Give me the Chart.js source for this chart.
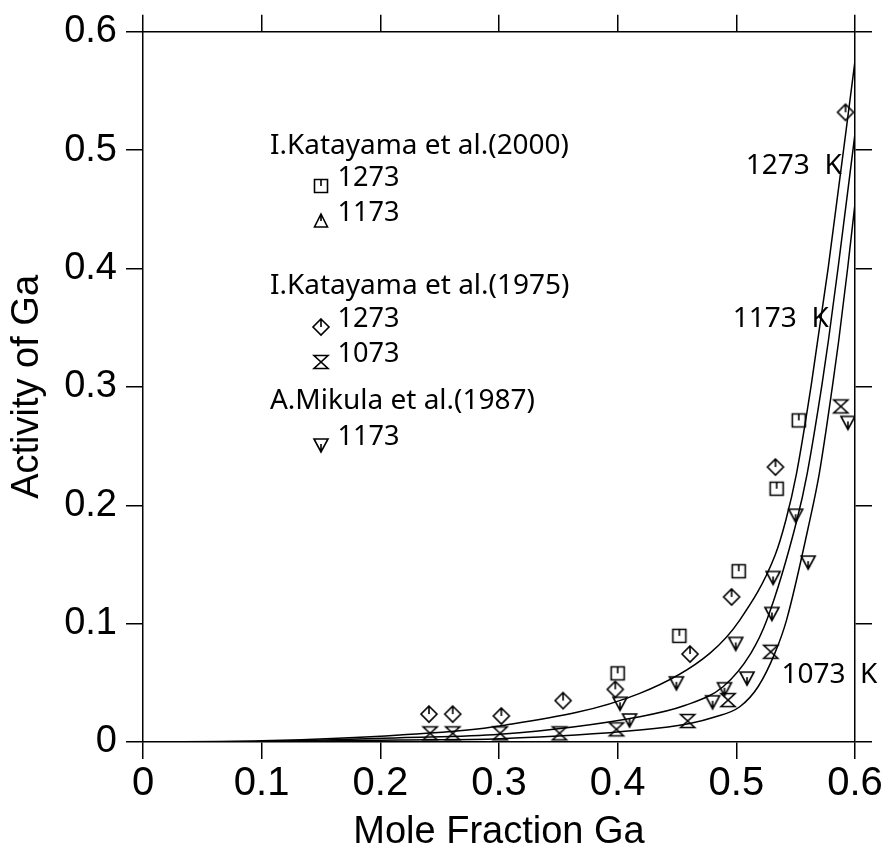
<!DOCTYPE html>
<html>
<head>
<meta charset="utf-8">
<script src="https://cdn.jsdelivr.net/npm/chart.js@4.4.1/dist/chart.umd.min.js"></script>
<style>
    html, body { margin: 0; padding: 0; background: #fff; }
    #wrap { width: 885px; height: 858px; }
</style>
</head>
<body>
<div id="wrap"><canvas id="chart" width="885" height="858"></canvas></div>
<script>
// 目盛り
const tickValues = [0, 0.1, 0.2, 0.3, 0.4, 0.5, 0.6];
const xTickLabels = ['0', '0.1', '0.2', '0.3', '0.4', '0.5', '0.6'];
const yTickLabels = ['0', '0.1', '0.2', '0.3', '0.4', '0.5', '0.6'];

// 計算曲線 (1273 K / 1173 K / 1073 K)
const curve1273X = [0, 0.1, 0.2164, 0.3006, 0.4186, 0.4776, 0.5029, 0.5324, 0.5417, 0.5507, 0.5633, 0.5775, 0.6];
const curve1273Y = [0, 0.001, 0.0059, 0.0135, 0.0411, 0.0749, 0.103, 0.1571, 0.1873, 0.2268, 0.3027, 0.4011, 0.5755];
const curve1173X = [0, 0.1, 0.2164, 0.3006, 0.4186, 0.4565, 0.4888, 0.5122, 0.5257, 0.551, 0.5597, 0.5723, 0.5776, 0.5858, 0.6];
const curve1173Y = [0, 0.0005, 0.0036, 0.0065, 0.0214, 0.0308, 0.0467, 0.0749, 0.103, 0.1873, 0.2268, 0.3027, 0.3392, 0.4011, 0.5139];
const curve1073X = [0, 0.1, 0.2164, 0.3006, 0.4186, 0.4607, 0.4818, 0.5029, 0.5183, 0.5324, 0.5423, 0.5619, 0.5699, 0.5813, 0.5863, 0.5939, 0.6];
const curve1073Y = [0, 0.0003, 0.0017, 0.0028, 0.0101, 0.0157, 0.0211, 0.0298, 0.0467, 0.0749, 0.103, 0.1873, 0.2268, 0.3027, 0.3392, 0.4011, 0.4549];

// 実測値
const kat2000T1273X = [0.400, 0.452, 0.502, 0.534, 0.5526];
const kat2000T1273Y = [0.058, 0.0897, 0.1443, 0.214, 0.2717];
const kat1975T1273X = [0.241, 0.261, 0.302, 0.354, 0.398, 0.461, 0.496, 0.533, 0.592];
const kat1975T1273Y = [0.0236, 0.0236, 0.022, 0.035, 0.0445, 0.0743, 0.1226, 0.2323, 0.532];
const kat1975T1073X = [0.242, 0.261, 0.301, 0.351, 0.399, 0.459, 0.493, 0.529, 0.588];
const kat1975T1073Y = [0.0073, 0.0073, 0.0073, 0.0073, 0.0107, 0.0177, 0.0354, 0.0762, 0.2835];
const mik1987T1173X = [0.402, 0.41, 0.4495, 0.480, 0.490, 0.4995, 0.509, 0.530, 0.531, 0.550, 0.5605, 0.594];
const mik1987T1173Y = [0.0327, 0.0186, 0.05, 0.034, 0.045, 0.0833, 0.054, 0.1086, 0.139, 0.1916, 0.152, 0.270];

const toPoints = (xs, ys) => xs.map((x, i) => ({ x: x, y: ys[i] }));

// マーカー画像を作る
function makeMarker(kind) {
    const s = 20;
    const c = document.createElement('canvas');
    c.width = s;
    c.height = s;
    const g = c.getContext('2d');
    const m = s / 2;
    g.strokeStyle = '#000';
    g.lineWidth = 1.6;
    g.beginPath();
    if (kind === 'square') {
        g.rect(m - 6.5, m - 6.5, 13, 13);
        g.moveTo(m, m - 6.5);
        g.lineTo(m, m);
    } else if (kind === 'diamond') {
        g.moveTo(m, m - 8);
        g.lineTo(m + 8, m);
        g.lineTo(m, m + 8);
        g.lineTo(m - 8, m);
        g.closePath();
        g.moveTo(m, m - 8);
        g.lineTo(m, m);
    } else if (kind === 'triUp') {
        g.moveTo(m, m - 7);
        g.lineTo(m + 6.5, m + 6);
        g.lineTo(m - 6.5, m + 6);
        g.closePath();
        g.moveTo(m, m - 7);
        g.lineTo(m, m);
    } else if (kind === 'triDown') {
        g.moveTo(m - 7, m - 6);
        g.lineTo(m + 7, m - 6);
        g.lineTo(m, m + 7);
        g.closePath();
        g.moveTo(m, m - 1);
        g.lineTo(m, m + 7);
    } else if (kind === 'hourglass') {
        g.moveTo(m - 7, m - 6.5);
        g.lineTo(m + 7, m - 6.5);
        g.lineTo(m - 7, m + 6.5);
        g.lineTo(m + 7, m + 6.5);
        g.closePath();
    }
    g.stroke();
    return c;
}

const marks = {
    square: makeMarker('square'),
    diamond: makeMarker('diamond'),
    triUp: makeMarker('triUp'),
    triDown: makeMarker('triDown'),
    hourglass: makeMarker('hourglass'),
};

// 凡例・曲線ラベル (データ座標で配置)
const legendHeads = [
    { text: 'I.Katayama et al.(2000)', x: 0.107, y: 0.4968, w: 299 },
    { text: 'I.Katayama et al.(1975)', x: 0.107, y: 0.3786, w: 300 },
    { text: 'A.Mikula et al.(1987)', x: 0.107, y: 0.2816, w: 268 },
];
const legendRows = [
    { mark: 'square', text: '1273', y: 0.47 },
    { mark: 'triUp', text: '1173', y: 0.4405 },
    { mark: 'diamond', text: '1273', y: 0.3505 },
    { mark: 'hourglass', text: '1073', y: 0.321 },
    { mark: 'triDown', text: '1173', y: 0.2506 },
];
const curveLabels = [
    { text: '1273  K', x: 0.508, y: 0.4799 },
    { text: '1173  K', x: 0.497, y: 0.3505 },
    { text: '1073  K', x: 0.538, y: 0.05 },
];

const annotFont = "28px 'Noto Sans'";

const annotations = {
    id: 'annotations',
    afterDraw: (chart) => {
        const ctx = chart.ctx;
        const xs = chart.scales.x;
        const ys = chart.scales.y;
        ctx.save();
        ctx.fillStyle = '#000';
        ctx.font = annotFont;
        ctx.textAlign = 'left';
        ctx.textBaseline = 'alphabetic';
        legendHeads.forEach((h) => {
            ctx.fillText(h.text, xs.getPixelForValue(h.x), ys.getPixelForValue(h.y), h.w);
        });
        legendRows.forEach((r) => {
            const px = xs.getPixelForValue(0.15);
            const py = ys.getPixelForValue(r.y);
            const img = marks[r.mark];
            ctx.drawImage(img, Math.round(px - img.width / 2), Math.round(py - img.height / 2));
            ctx.fillText(r.text, xs.getPixelForValue(0.164), py, 62);
        });
        curveLabels.forEach((l) => {
            ctx.fillText(l.text, xs.getPixelForValue(l.x), ys.getPixelForValue(l.y), 99);
        });
        ctx.restore();
    },
};

const curveStyle = {
    showLine: true,
    borderColor: '#000',
    borderWidth: 1.5,
    pointRadius: 0,
    cubicInterpolationMode: 'monotone',
    fill: false,
};
const markStyle = (img) => ({
    showLine: false,
    pointStyle: img,
    pointRadius: 8,
    borderColor: '#000',
    backgroundColor: 'rgba(0,0,0,0)',
});

const setTicks = (scale) => {
    scale.ticks = tickValues.map((v) => ({ value: v }));
};
const gridOpts = { drawOnChartArea: false, color: '#000', lineWidth: 1.5, tickLength: 17 };
const borderOpts = { color: '#000', width: 1.5 };

new Chart(document.getElementById('chart').getContext('2d'), {
    type: 'scatter',
    data: {
        datasets: [
            { ...markStyle(marks.square), data: toPoints(kat2000T1273X, kat2000T1273Y) },
            { ...markStyle(marks.diamond), data: toPoints(kat1975T1273X, kat1975T1273Y) },
            { ...markStyle(marks.hourglass), data: toPoints(kat1975T1073X, kat1975T1073Y) },
            { ...markStyle(marks.triDown), data: toPoints(mik1987T1173X, mik1987T1173Y) },
            { ...curveStyle, data: toPoints(curve1273X, curve1273Y) },
            { ...curveStyle, data: toPoints(curve1173X, curve1173Y) },
            { ...curveStyle, data: toPoints(curve1073X, curve1073Y) },
        ],
    },
    options: {
        responsive: false,
        animation: false,
        events: [],
        layout: { padding: 0 },
        plugins: {
            legend: { display: false },
            tooltip: { enabled: false },
        },
        scales: {
            x: {
                type: 'linear',
                position: 'bottom',
                min: 0,
                max: 0.6,
                afterBuildTicks: setTicks,
                afterFit: (s) => { s.height = 116; },
                grid: gridOpts,
                border: borderOpts,
                ticks: {
                    color: '#000',
                    font: { family: "'Liberation Sans Narrow', 'Liberation Sans'", size: 40 },
                    padding: 1,
                    maxRotation: 0,
                    autoSkip: false,
                    callback: (v, i) => xTickLabels[i],
                },
                title: {
                    display: true,
                    text: 'Mole Fraction Ga',
                    color: '#000',
                    font: { family: "'Liberation Sans'", size: 38, lineHeight: 1.35 },
                    padding: 0,
                },
            },
            x2: {
                type: 'linear',
                position: 'top',
                min: 0,
                max: 0.6,
                afterBuildTicks: setTicks,
                afterFit: (s) => { s.height = 31; },
                grid: gridOpts,
                border: borderOpts,
                ticks: { display: false },
            },
            y: {
                type: 'linear',
                position: 'left',
                min: 0,
                max: 0.6,
                afterBuildTicks: setTicks,
                afterFit: (s) => { s.width = 143; },
                grid: gridOpts,
                border: borderOpts,
                ticks: {
                    color: '#000',
                    font: { family: "'Liberation Sans'", size: 38 },
                    padding: 9,
                    autoSkip: false,
                    callback: (v, i) => yTickLabels[i],
                },
                title: {
                    display: true,
                    text: 'Activity of Ga',
                    color: '#000',
                    font: { family: "'Liberation Sans'", size: 38, lineHeight: 1.2 },
                    padding: { top: 5, bottom: 0 },
                },
            },
            y2: {
                type: 'linear',
                position: 'right',
                min: 0,
                max: 0.6,
                afterBuildTicks: setTicks,
                afterFit: (s) => { s.width = 30; },
                grid: gridOpts,
                border: borderOpts,
                ticks: { display: false },
            },
        },
    },
    plugins: [annotations],
});
</script>
</body>
</html>
